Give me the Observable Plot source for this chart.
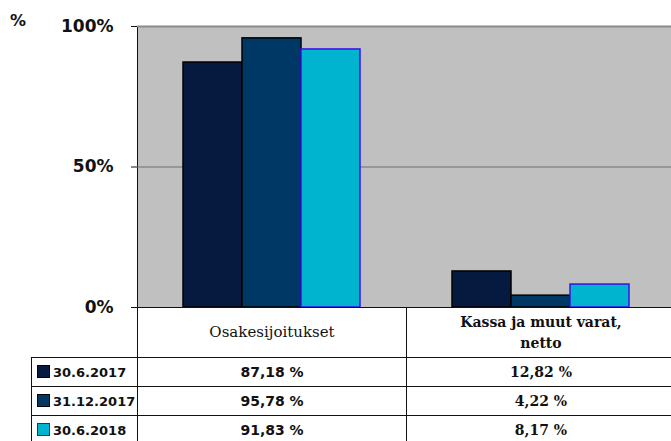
<!DOCTYPE html>
<html>
<head>
<meta charset="utf-8">
<script src="https://cdn.jsdelivr.net/npm/d3@7"></script>
<script src="https://cdn.jsdelivr.net/npm/@observablehq/plot@0.6"></script>
<style>
  html, body { margin: 0; padding: 0; background: #fff; }
  #wrap { position: relative; width: 671px; height: 441px; overflow: hidden; }
  #pct { position: absolute; left: 10px; top: 11px; font: bold 16px "DejaVu Sans"; color: #111; }
  #chart { position: absolute; left: 0; top: 0; width: 675px; }
  #chart svg { max-width: none !important; width: 675px !important; height: 441px !important; }
  table { position: absolute; left: 31px; top: 307px; width: 644px; border-collapse: collapse; table-layout: fixed; background: transparent; }
  td { border: 1.5px solid #111; padding: 0; text-align: center; vertical-align: middle; color: #111; }
  td.blank { border-left: none; border-top: none; }
  td.hdr { height: 49px; font: 15px "DejaVu Serif"; line-height: 21px; }
  td.hdr.b { font-weight: bold; font-size: 14px; }
  td.lab { text-align: left; font: bold 13px "DejaVu Sans"; white-space: nowrap; }
  td.val { height: 28px; font: bold 14px "DejaVu Sans"; }
  td.val.s { font: bold 14px "DejaVu Serif"; }
  .sw { display: inline-block; width: 11px; height: 11px; border: 1px solid #000; vertical-align: -1px; margin: 0 3px 0 5px; }
</style>
</head>
<body>
<div id="wrap">
  <div id="chart"></div>
  <table id="tbl"></table>
  <div id="pct">%</div>
</div>
<script>
const categories = ["Osakesijoitukset", "Kassa ja muut varat, netto"];
const categoryLines = [["Osakesijoitukset"], ["Kassa ja muut varat,", "netto"]];
const series = ["30.6.2017", "31.12.2017", "30.6.2018"];
const valuesOsake = [87.18, 95.78, 91.83];
const valuesKassa = [12.82, 4.22, 8.17];
const labelsOsake = ["87,18 %", "95,78 %", "91,83 %"];
const labelsKassa = ["12,82 %", "4,22 %", "8,17 %"];
const yTicks = [0, 50, 100];
const fills = ["#061a3f", "#003865", "#00b4d0"];
const strokes = ["#000000", "#000000", "#3a10e8"];

const rows = [];
series.forEach((s, i) => {
  rows.push({cat: categories[0], series: s, value: valuesOsake[i]});
  rows.push({cat: categories[1], series: s, value: valuesKassa[i]});
});

const barMarks = series.map((s, i) =>
  Plot.barY(rows.filter(d => d.series === s), {
    fx: "cat", x: "series", y: "value",
    fill: fills[i], stroke: strokes[i], strokeWidth: 1.5
  })
);

const plot = Plot.plot({
  width: 675,
  height: 441,
  marginLeft: 137,
  marginRight: 0,
  marginTop: 26,
  marginBottom: 134,
  style: {fontFamily: "DejaVu Sans", fontSize: "17px", fontWeight: "bold", color: "#111", background: "transparent"},
  fx: {domain: categories, paddingInner: 0, paddingOuter: 0, axis: null, label: null},
  x: {domain: series, paddingInner: 0, paddingOuter: 0.742, axis: null},
  y: {domain: [0, 100], ticks: yTicks, tickFormat: d => d + "%", tickSize: 6, tickPadding: 18, label: null, line: true},
  marks: [
    Plot.frame({fill: "#c0c0c0", stroke: "none", shapeRendering: "crispEdges", insetRight: -1}),
    Plot.ruleY([50], {stroke: "#6e6e6e", strokeWidth: 1}),
    Plot.ruleY([100], {stroke: "#8a8a8a", strokeWidth: 2}),
    ...barMarks
  ]
});
plot.style.maxWidth = "none";
document.getElementById("chart").appendChild(plot);

// data table below the chart
const tbl = document.getElementById("tbl");
tbl.innerHTML =
  `<colgroup><col style="width:106px"><col style="width:269px"><col style="width:269px"></colgroup>` +
  `<tr><td class="blank"></td>` +
  `<td class="hdr">${categoryLines[0].join("<br>")}</td>` +
  `<td class="hdr b">${categoryLines[1].join("<br>")}</td></tr>` +
  series.map((s, i) =>
    `<tr><td class="lab"><span class="sw" style="background:${fills[i]};border-color:${strokes[i]}"></span>${s}</td>` +
    `<td class="val">${labelsOsake[i]}</td><td class="val s">${labelsKassa[i]}</td></tr>`
  ).join("");
</script>
</body>
</html>
